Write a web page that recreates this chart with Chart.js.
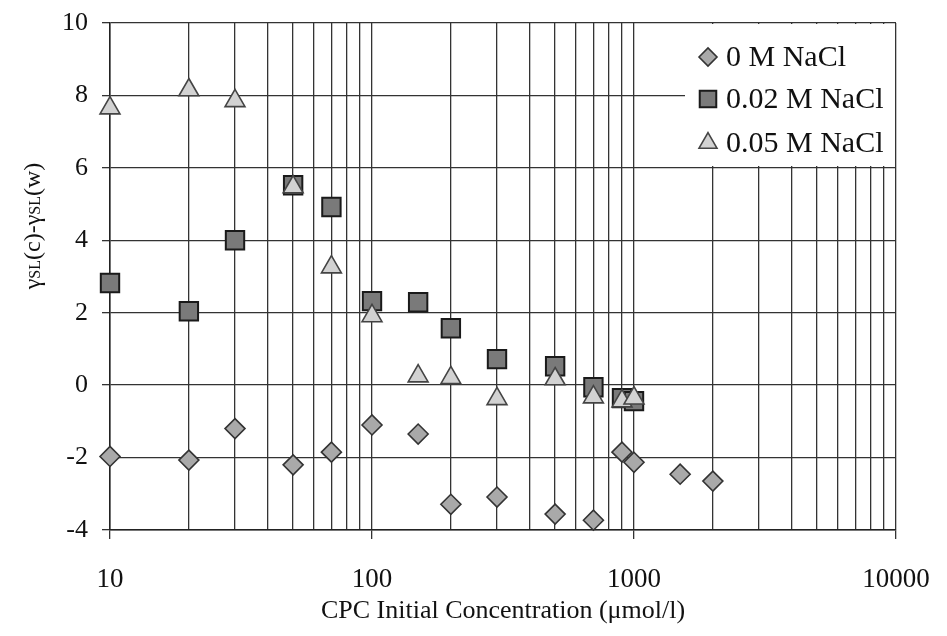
<!DOCTYPE html>
<html lang="en">
<head>
    <meta charset="UTF-8">
    <title>CPC adsorption</title>
    <script src="https://cdn.jsdelivr.net/npm/chart.js@4.4.0/dist/chart.umd.min.js"></script>
    <style>
        body { margin: 0; background: #fff; }
    </style>
</head>
<body>
<canvas id="chart_cpc" width="947" height="636"></canvas>

<script>
    // CPC initial concentration (umol/l) and surface tension difference per NaCl level
    const conc0 = [10, 20, 30, 50, 70, 100, 150, 200, 300, 500, 700, 900, 1000, 1500, 2000];
    const gamma0 = [-1.97, -2.07, -1.2, -2.2, -1.85, -1.1, -1.35, -3.29, -3.09, -3.56, -3.73, -1.85, -2.13, -2.46, -2.65];

    const conc002 = [10, 20, 30, 50, 70, 100, 150, 200, 300, 500, 700, 900, 1000];
    const gamma002 = [2.82, 2.04, 4.0, 5.52, 4.92, 2.32, 2.29, 1.57, 0.72, 0.52, -0.06, -0.36, -0.44];

    const conc005 = [10, 20, 30, 50, 70, 100, 150, 200, 300, 500, 700, 900, 1000];
    const gamma005 = [7.65, 8.15, 7.85, 5.47, 3.26, 1.91, 0.25, 0.2, -0.38, 0.17, -0.33, -0.44, -0.36];

    const seriesNames = ['0 M NaCl', '0.02 M NaCl', '0.05 M NaCl'];

    // log grid: every 1..9 x 10^n, labels only on the decades
    const xGridValues = [10, 20, 30, 40, 50, 60, 70, 80, 90,
        100, 200, 300, 400, 500, 600, 700, 800, 900,
        1000, 2000, 3000, 4000, 5000, 6000, 7000, 8000, 9000, 10000];
    const xMajorValues = [10, 100, 1000, 10000];

    const serif = "'Liberation Serif', 'DejaVu Serif', serif";
    const gridColor = '#333';

    function toPoints(xs, ys) {
        return xs.map((x, i) => ({x: x, y: ys[i]}));
    }

    const styles = [
        {pointStyle: 'rectRot', radius: 10, backgroundColor: '#a9a9a9', borderColor: '#333', borderWidth: 1.6},
        {pointStyle: 'rect', radius: 13, backgroundColor: '#7a7a7a', borderColor: '#1a1a1a', borderWidth: 2},
        {pointStyle: 'triangle', radius: 11.5, backgroundColor: '#d2d2d2', borderColor: '#444', borderWidth: 1.6},
    ];

    // legend box sitting in the top right corner of the plot
    const cornerLegend = {
        id: 'cornerLegend',
        afterDraw(chart) {
            const ctx = chart.ctx;
            const area = chart.chartArea;
            ctx.save();
            ctx.fillStyle = '#fff';
            ctx.fillRect(685, area.top + 1, area.right - 686, 142);
            ctx.font = '30px ' + serif;
            ctx.textBaseline = 'middle';
            const rows = [57, 99, 143];
            seriesNames.forEach((name, i) => {
                const s = styles[i];
                ctx.fillStyle = s.backgroundColor;
                ctx.strokeStyle = s.borderColor;
                ctx.lineWidth = s.borderWidth;
                Chart.helpers.drawPoint(ctx, {
                    pointStyle: s.pointStyle, radius: s.radius * 0.9, rotation: 0, borderWidth: s.borderWidth
                }, 708, rows[i]);
                ctx.fillStyle = '#111';
                ctx.fillText(name, 726, rows[i] + 1);
            });
            ctx.restore();
        }
    };

    // rotated y title with small SL subscripts
    const yTitle = {
        id: 'yTitle',
        afterDraw(chart) {
            const ctx = chart.ctx;
            const parts = [
                ['γ', 24], ['SL', 16], ['(c)-γ', 24], ['SL', 16], ['(w)', 24]
            ];
            ctx.save();
            ctx.translate(40, 226);
            ctx.rotate(-Math.PI / 2);
            ctx.fillStyle = '#111';
            ctx.textBaseline = 'alphabetic';
            let total = 0;
            parts.forEach(p => {
                ctx.font = p[1] + 'px ' + serif;
                total += ctx.measureText(p[0]).width;
            });
            let x = -total / 2;
            parts.forEach(p => {
                ctx.font = p[1] + 'px ' + serif;
                ctx.fillText(p[0], x, 0);
                x += ctx.measureText(p[0]).width;
            });
            ctx.restore();
        }
    };

    let chartCpc = new Chart(
        document.getElementById('chart_cpc'),
        {
            type: 'scatter',
            data: {
                datasets: [
                    Object.assign({label: seriesNames[0], data: toPoints(conc0, gamma0), order: 2, clip: false}, styles[0]),
                    Object.assign({label: seriesNames[1], data: toPoints(conc002, gamma002), order: 1, clip: false}, styles[1]),
                    Object.assign({label: seriesNames[2], data: toPoints(conc005, gamma005), order: 0, clip: false}, styles[2]),
                ]
            },
            options: {
                responsive: false,
                animation: false,
                layout: {
                    padding: {top: 23, right: 51, left: 0, bottom: 0},
                },
                scales: {
                    x: {
                        type: 'logarithmic',
                        min: 10,
                        max: 10000,
                        afterBuildTicks: scale => {
                            scale.ticks = xGridValues.map(v => ({value: v}));
                        },
                        afterFit: scale => {
                            scale.height = 106;
                            scale.paddingLeft = 0;
                            scale.paddingRight = 0;
                        },
                        grid: {
                            color: gridColor,
                            lineWidth: 1.3,
                            tickLength: 9,
                            tickColor: ctx => xMajorValues.includes(ctx.tick.value) ? gridColor : 'rgba(0,0,0,0)',
                        },
                        border: {color: '#222', width: 1.5},
                        ticks: {
                            autoSkip: false,
                            maxRotation: 0,
                            padding: 25,
                            color: '#111',
                            font: {family: serif, size: 27},
                            callback: value => xMajorValues.includes(value) ? String(value) : '',
                        },
                        title: {
                            display: true,
                            text: 'CPC Initial Concentration (μmol/l)',
                            color: '#111',
                            font: {family: serif, size: 26},
                            padding: {top: 0, bottom: 9},
                        },
                    },
                    y: {
                        min: -4,
                        max: 10,
                        afterFit: scale => {
                            scale.width = 110;
                            scale.paddingTop = 0;
                            scale.paddingBottom = 0;
                        },
                        grid: {
                            color: gridColor,
                            lineWidth: 1.3,
                            tickLength: 8,
                        },
                        border: {color: '#222', width: 1.5},
                        ticks: {
                            stepSize: 2,
                            padding: 14,
                            color: '#111',
                            font: {family: serif, size: 26},
                        },
                    },
                },
                plugins: {
                    legend: {display: false},
                    tooltip: {enabled: false},
                },
            },
            plugins: [cornerLegend, yTitle],
        }
    );
</script>
</body>
</html>
